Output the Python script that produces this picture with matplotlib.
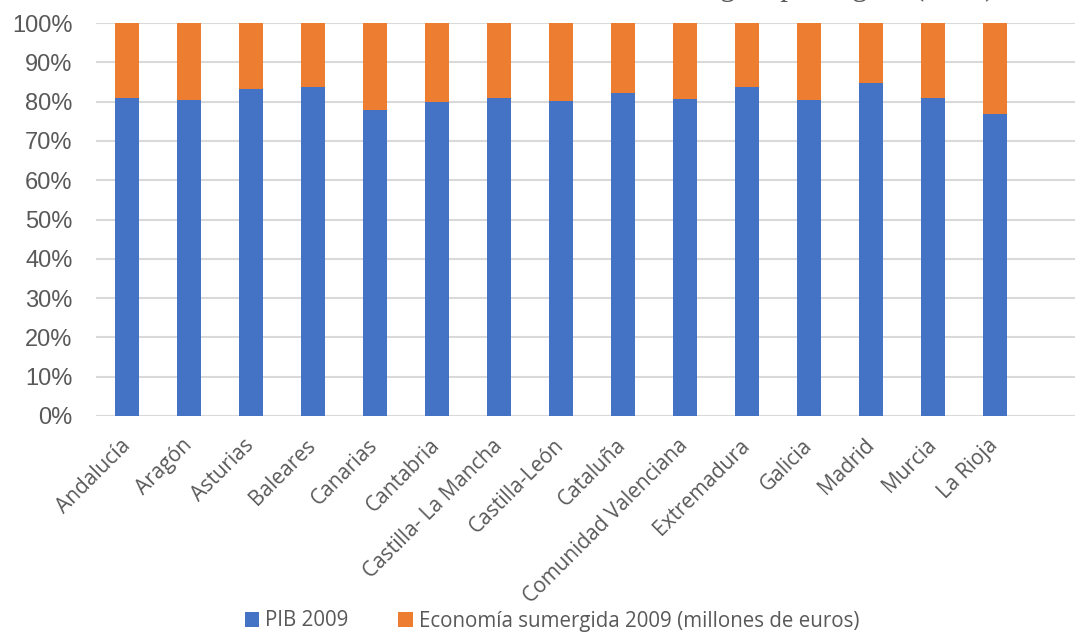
import matplotlib.pyplot as plt
import numpy as np

regiones = ['Andalucía', 'Aragón', 'Asturias', 'Baleares', 'Canarias', 'Cantabria',
            'Castilla- La Mancha', 'Castilla-León', 'Cataluña', 'Comunidad Valenciana',
            'Extremadura', 'Galicia', 'Madrid', 'Murcia', 'La Rioja']
pib_2009 = [81.0, 80.5, 83.1, 83.8, 77.8, 80.0, 80.8, 80.2, 82.2, 80.7, 83.6, 80.5, 84.7, 81.0, 76.8]
sumergida_2009 = [19.0, 19.5, 16.9, 16.2, 22.2, 20.0, 19.2, 19.8, 17.8, 19.3, 16.4, 19.5, 15.3, 19.0, 23.2]

pib = np.array(pib_2009)
sum_ = np.array(sumergida_2009)
total = pib + sum_
pib_pct = pib / total * 100
sum_pct = sum_ / total * 100

gris = '#595959'

fig = plt.figure(figsize=(10.75, 6.33), dpi=100)
ax = fig.add_axes([96/1075, 217/633, 1 - 96/1075, 393/633])

x = np.arange(len(regiones))
ax.bar(x, pib_pct, width=0.4, color='#4472C4', label='PIB 2009', zorder=3)
ax.bar(x, sum_pct, width=0.4, bottom=pib_pct, color='#ED7D31',
       label='Economía sumergida 2009 (millones de euros)', zorder=3)

ax.set_xlim(-0.5, 15.29)
ax.set_ylim(0, 100)
ax.set_yticks(np.arange(0, 101, 10))
ax.set_yticklabels([f'{v}%' for v in range(0, 101, 10)], fontsize=17,
                   family='Liberation Sans', color=gris)
ax.yaxis.grid(True, color='#d9d9d9', linewidth=1.5, zorder=0)
ax.tick_params(axis='both', length=0)
ax.tick_params(axis='y', pad=17)
for s in ax.spines.values():
    s.set_visible(False)

ax.set_xticks(x)
ax.set_xticklabels(regiones, rotation=45, ha='right', va='center', rotation_mode='anchor',
                   fontsize=15, family='Open Sans', color=gris)
ax.tick_params(axis='x', pad=19)

# titulo recortado por arriba, solo se ven los trazos descendentes
fig.text(995/1075, 1.0085, 'Economía sumergida por región (2009)', ha='right', va='baseline',
         fontsize=22, family='Liberation Serif', color=gris)

h, l = ax.get_legend_handles_labels()
fig.legend(h, l, loc='center', bbox_to_anchor=(552/1075, 12/633), ncol=2, frameon=False,
           prop={'family': 'Open Sans', 'size': 14.8}, labelcolor=gris,
           handlelength=0.7, handleheight=0.7, handletextpad=0.3, columnspacing=2.4,
           borderpad=0, borderaxespad=0)

fig.savefig('out.png', dpi=100)
